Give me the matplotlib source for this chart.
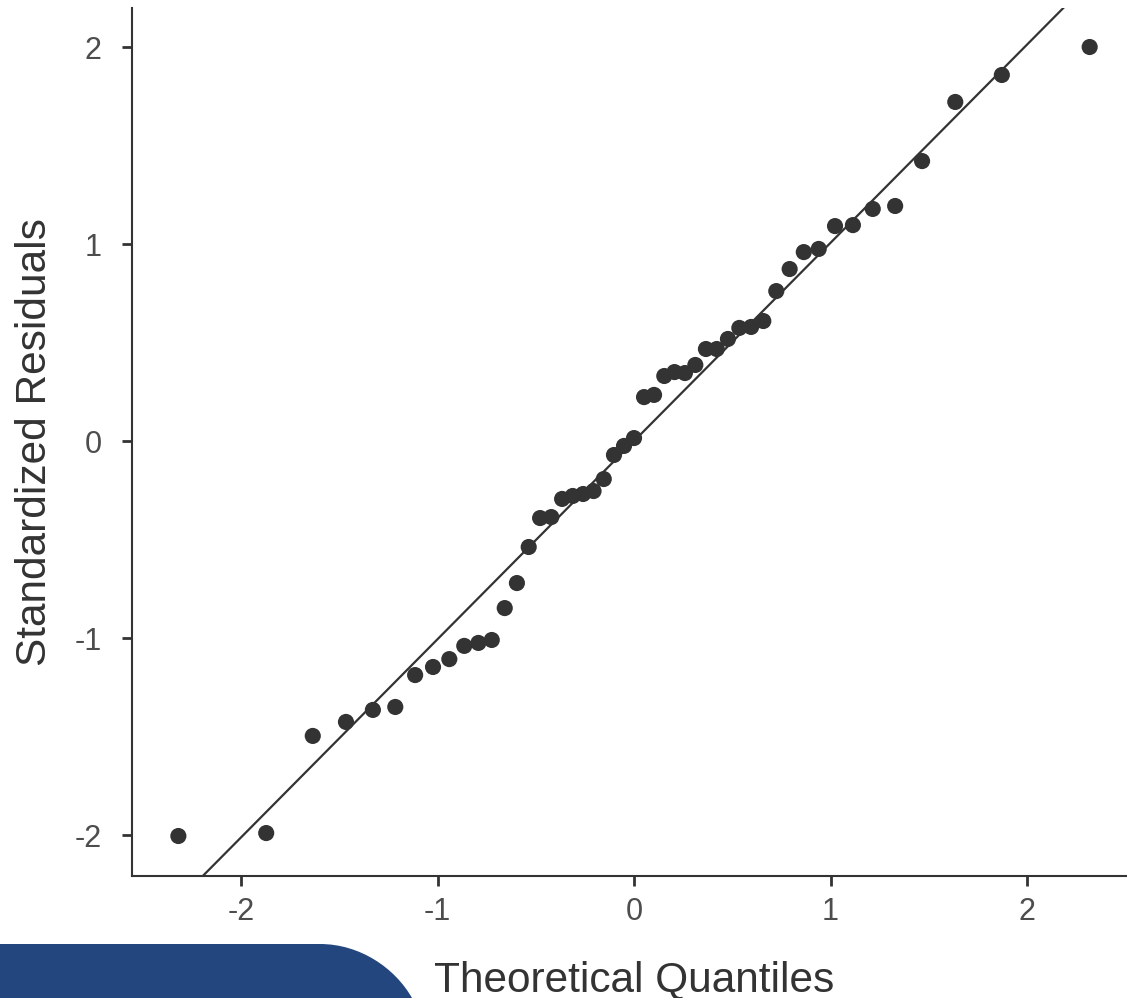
import matplotlib
matplotlib.use("Agg")
from matplotlib import pyplot as plt
from matplotlib.path import Path
from matplotlib.patches import PathPatch

plt.rcParams["font.family"] = ["Liberation Sans", "DejaVu Sans"]

#---------------------------------
# data (49 residuals)
theoretical = [-2.319, -1.872, -1.635, -1.466, -1.329, -1.215, -1.114, -1.023,
               -0.940, -0.864, -0.792, -0.724, -0.658, -0.596, -0.536, -0.478,
               -0.421, -0.366, -0.312, -0.259, -0.206, -0.154, -0.102, -0.051,
               0.000, 0.051, 0.102, 0.154, 0.206, 0.259, 0.312, 0.366,
               0.421, 0.478, 0.536, 0.596, 0.658, 0.724, 0.792, 0.864,
               0.940, 1.023, 1.114, 1.215, 1.329, 1.466, 1.635, 1.872, 2.319]

residuals = [-2.005, -1.990, -1.497, -1.426, -1.365, -1.350, -1.188, -1.147,
             -1.107, -1.040, -1.025, -1.010, -0.848, -0.721, -0.538, -0.391,
             -0.386, -0.294, -0.279, -0.269, -0.254, -0.193, -0.071, -0.025,
             0.015, 0.223, 0.234, 0.330, 0.350, 0.345, 0.386, 0.467,
             0.467, 0.518, 0.574, 0.579, 0.609, 0.761, 0.873, 0.959,
             0.975, 1.091, 1.096, 1.178, 1.193, 1.421, 1.721, 1.858, 2.000]

line_intercept = 0.0
line_slope = 1.006

ticks = [-2, -1, 0, 1, 2]

dark = "#333333"

#-------------------------------
# plotting
fig = plt.figure(figsize=(11.27, 9.98), dpi=100)
ax = fig.add_axes([132 / 1127, 1 - 876 / 998, 1 - 132 / 1127, (876 - 8) / 998])

ax.scatter(theoretical, residuals, s=135, color=dark, edgecolors="none", zorder=3)

xl = (-2.555, 2.509)
ax.plot(xl, [line_intercept + line_slope * v for v in xl], color=dark, lw=1.6)

ax.set_xlim(*xl)
ax.set_ylim(-2.208, 2.198)

#---------------------------------
# formatting (theme_classic look)
ax.set_xticks(ticks)
ax.set_yticks(ticks)
ax.set_xticklabels([str(t) for t in ticks])
ax.set_yticklabels([str(t) for t in ticks])

for side in ["top", "right"]:
    ax.spines[side].set_visible(False)
for side in ["left", "bottom"]:
    ax.spines[side].set_linewidth(1.5)
    ax.spines[side].set_color(dark)

ax.tick_params(axis="both", length=7, width=2, color=dark, labelsize=22,
               labelcolor="#4d4d4d")
ax.tick_params(axis="x", pad=8)
ax.tick_params(axis="y", pad=15)

ax.set_xlabel("Theoretical Quantiles", fontsize=30.5, color=dark, labelpad=24)
ax.xaxis.label.set_x(0.5045)   # the original panel was a bit wider (cropped)
ax.set_ylabel("Standardized Residuals", fontsize=30.5, color=dark, labelpad=14)

# blue badge at the bottom left corner
W, H = 1127, 998
verts = [(0, 0), (412 / W, 0), (395 / W, 30 / H), (360 / W, 54 / H),
         (320 / W, 54 / H), (0, 54 / H), (0, 0)]
codes = [Path.MOVETO, Path.LINETO, Path.CURVE4, Path.CURVE4, Path.CURVE4,
         Path.LINETO, Path.CLOSEPOLY]
fig.patches.append(PathPatch(Path(verts, codes), facecolor="#24467f",
                             edgecolor="none", transform=fig.transFigure))

fig.savefig("out.png", dpi=100)
